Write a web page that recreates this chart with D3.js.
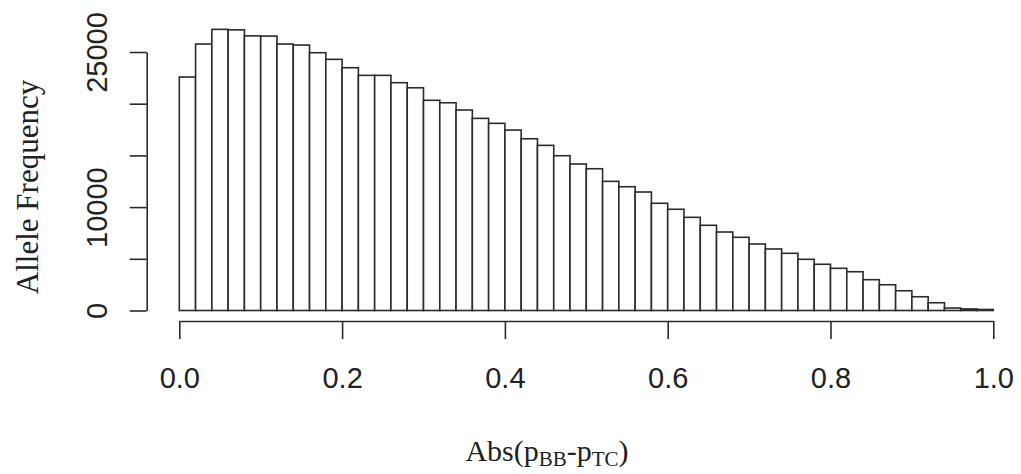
<!DOCTYPE html>
<html>
<head>
<meta charset="utf-8">
<script src="https://cdn.jsdelivr.net/npm/d3@7"></script>
<style>
  html, body { margin: 0; padding: 0; background: #fff; }
  svg { display: block; }
</style>
</head>
<body>
<svg id="chart" width="1021" height="474"></svg>
<script>
// Histogram of |p_BB - p_TC| in 50 bins of width 0.02 over [0, 1]
const binStart = 0;
const binWidth = 0.02;
const counts = [
  22580, 25770, 27190, 27140, 26560, 26540, 25770, 25670, 24930, 24290,
  23480, 22740, 22740, 22030, 21540, 20330, 20090, 19390, 18580, 18100,
  17450, 16610, 15970, 14970, 14170, 13710, 12490, 11970, 11460, 10370,
  9790, 9010, 8240, 7590, 7080, 6430, 5950, 5530, 4950, 4470,
  4080, 3750, 2980, 2490, 1910, 1330, 750, 240, 150, 100
];
const xTicks = [0, 0.2, 0.4, 0.6, 0.8, 1.0];
const yTicks = [0, 5000, 10000, 15000, 20000, 25000];
const yTickLabels = ["0", "", "10000", "", "", "25000"];

const svg = d3.select("#chart");
const ink = "#2b2b2b";

const x = d3.scaleLinear().domain([0, 1]).range([179.3, 993.3]);
const y = d3.scaleLinear().domain([0, 25000]).range([310.5, 52]);

const bins = counts.map((c, i) => ({
  x0: binStart + i * binWidth,
  x1: binStart + (i + 1) * binWidth,
  count: c
}));

// bars
svg.append("g")
  .selectAll("rect")
  .data(bins)
  .join("rect")
  .attr("x", d => x(d.x0))
  .attr("width", d => x(d.x1) - x(d.x0))
  .attr("y", d => y(d.count))
  .attr("height", d => y(0) - y(d.count))
  .attr("fill", "#fff")
  .attr("stroke", ink)
  .attr("stroke-width", 1.6);

// x axis
const xAxis = svg.append("g")
  .attr("transform", "translate(0,321)")
  .call(d3.axisBottom(x)
    .tickValues(xTicks)
    .tickFormat(d3.format(".1f"))
    .tickSize(18)
    .tickSizeOuter(0));
xAxis.select(".domain").attr("stroke", ink).attr("stroke-width", 1.6);
xAxis.selectAll(".tick line").attr("stroke", ink).attr("stroke-width", 1.6);
xAxis.selectAll(".tick text")
  .attr("y", 67)
  .attr("dy", null)
  .attr("fill", "#222")
  .style("font-family", "'Liberation Sans', Arial, sans-serif")
  .style("font-size", "29px");

// y axis
const yAxis = svg.append("g")
  .attr("transform", "translate(146.7,0)")
  .call(d3.axisLeft(y)
    .tickValues(yTicks)
    .tickFormat((d, i) => yTickLabels[i])
    .tickSize(17)
    .tickSizeOuter(0));
yAxis.select(".domain").attr("stroke", ink).attr("stroke-width", 1.6);
yAxis.selectAll(".tick line").attr("stroke", ink).attr("stroke-width", 1.6);
yAxis.selectAll(".tick text")
  .attr("x", null)
  .attr("dy", null)
  .attr("transform", "translate(-40,0) rotate(-90)")
  .attr("text-anchor", "middle")
  .attr("fill", "#222")
  .style("font-family", "'Liberation Sans', Arial, sans-serif")
  .style("font-size", "29px");

// axis titles
svg.append("text")
  .attr("transform", "translate(38,187) rotate(-90)")
  .attr("text-anchor", "middle")
  .attr("fill", "#222")
  .style("font-family", "'Liberation Serif', 'Times New Roman', serif")
  .style("font-size", "31px")
  .text("Allele Frequency");

const xt = svg.append("text")
  .attr("x", 547)
  .attr("y", 460.7)
  .attr("text-anchor", "middle")
  .attr("fill", "#222")
  .style("font-family", "'Liberation Serif', 'Times New Roman', serif")
  .style("font-size", "30px");
xt.append("tspan").text("Abs(p");
xt.append("tspan").attr("dy", 5).style("font-size", "21px").text("BB");
xt.append("tspan").attr("dy", -5).text("-p");
xt.append("tspan").attr("dy", 5).style("font-size", "21px").text("TC");
xt.append("tspan").attr("dy", -5).text(")");
</script>
</body>
</html>
